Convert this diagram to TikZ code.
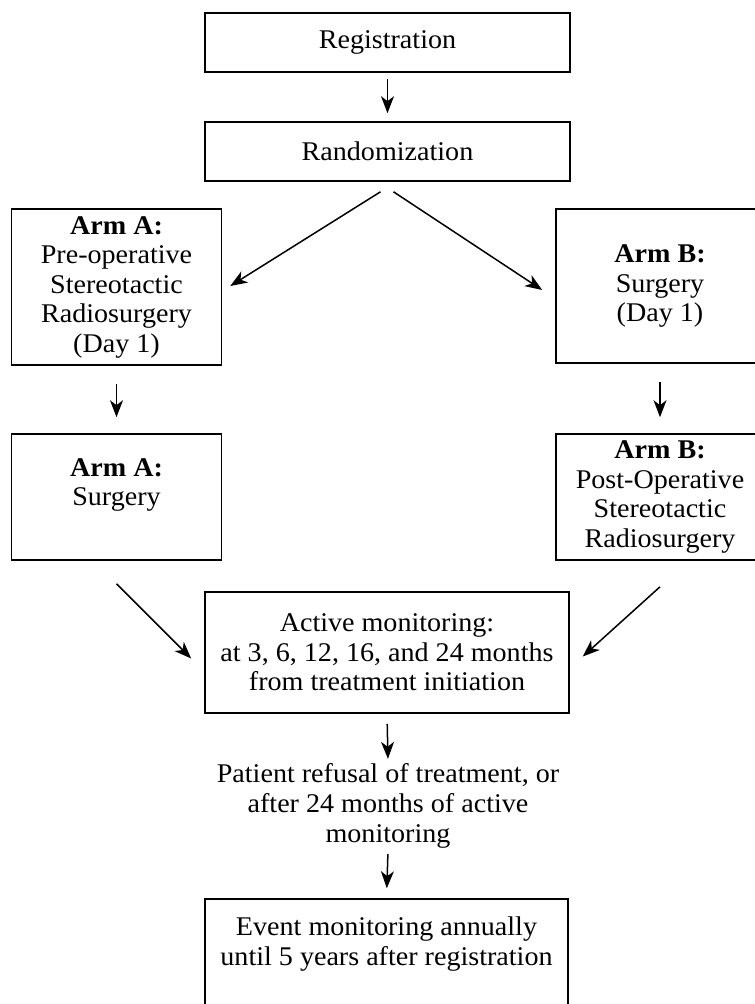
\documentclass[tikz,border=0pt]{standalone}
\usepackage{fontspec}
\setmainfont{Liberation Serif}[FakeStretch=1.04]
\usetikzlibrary{arrows.meta}
\tikzset{
  box/.style={draw, line width=1.6pt, inner sep=0pt, align=center, font=\fontsize{27}{29.5}\selectfont},
  plain/.style={inner sep=0pt, align=center, font=\fontsize{27}{30}\selectfont},
  arr/.style={line width=1.5pt, -{Stealth[length=17pt,width=13pt,inset=5pt]}}
}
\begin{document}
\begin{tikzpicture}[x=1pt,y=-1pt]
\useasboundingbox (0,0) rectangle (755,1004);
\clip (0,0) rectangle (755,1004);
\node[box, minimum width=365pt, minimum height=59pt] (reg) at (387.5,42.5) {Registration};
\node[box, minimum width=365pt, minimum height=59pt] (rand) at (387.5,151.5) {Randomization};
\node[box, minimum width=210pt, minimum height=156pt] (armA) at (116.5,287) {\textbf{Arm A:}\\Pre-operative\\Stereotactic\\Radiosurgery\\(Day 1)};
\node[box, minimum width=208pt, minimum height=154pt] (armB) at (660,286) {\textbf{Arm B:}\\Surgery\\(Day 1)};
\node[box, minimum width=210pt, minimum height=126pt] (armA2) at (116.5,497) {\textbf{Arm A:}\\Surgery\\\mbox{}};
\node[box, minimum width=208pt, minimum height=126pt] (armB2) at (660,497) {\textbf{Arm B:}\\Post-Operative\\Stereotactic\\Radiosurgery};
\node[box, minimum width=364pt, minimum height=121pt] (active) at (387,652.5) {Active monitoring:\\at 3, 6, 12, 16, and 24 months\\from treatment initiation};
\node[plain, minimum height=90pt] (patient) at (388,806) {Patient refusal of treatment, or\\after 24 months of active\\monitoring};
\node[box, minimum width=363pt, minimum height=108pt] (event) at (386.5,953) {Event monitoring annually\\until 5 years after registration\\[-6pt]\mbox{}};

\draw[arr, shorten <=6pt, shorten >=8pt] (reg.south) -- (rand.north);
\coordinate (r1) at ([xshift=-7pt,yshift=-10pt]rand.south);
\coordinate (r2) at ([xshift=6pt,yshift=-10pt]rand.south);
\draw[arr] (r1) -- ([xshift=8pt,yshift=1pt]armA.east);
\draw[arr] (r2) -- ([xshift=-13pt,yshift=-4pt]armB.west);
\draw[arr, shorten <=18pt, shorten >=16pt] (armA.south) -- (armA2.north);
\draw[arr, shorten <=18pt, shorten >=16pt] (armB.south) -- (armB2.north);
\coordinate (a1) at ([yshift=-23pt]armA2.south);
\coordinate (b1) at ([yshift=-26pt]armB2.south);
\draw[arr] (a1) -- ([xshift=-13pt,yshift=-6pt]active.west);
\draw[arr] (b1) -- ([xshift=13pt,yshift=-4pt]active.east);
\draw[arr, shorten <=10pt, shorten >=2pt] (active.south) -- (patient.north);
\draw[arr, shorten <=3pt, shorten >=10pt] (patient.south) -- (event.north);
\end{tikzpicture}
\end{document}
